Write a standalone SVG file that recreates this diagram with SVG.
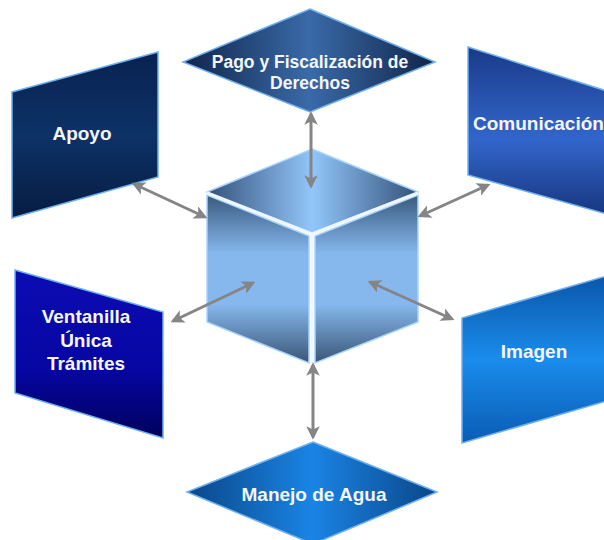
<svg xmlns="http://www.w3.org/2000/svg" width="604" height="540" viewBox="0 0 604 540">
  <style>
    .lbl { font-family: "Liberation Sans", Arial, sans-serif; font-weight: bold; fill: #f4f6fa; }
    .edge { stroke: #6fb0f0; stroke-width: 1.5; stroke-linejoin: miter; }
    .face { stroke: #a8d4ff; stroke-width: 1.5; }
    .conn { stroke: #858585; stroke-width: 3; fill: none; marker-start: url(#head); marker-end: url(#head); }
  </style>
  <defs>
    <marker id="head" viewBox="0 0 10 10" refX="8" refY="5" markerWidth="4.5" markerHeight="4.5" orient="auto-start-reverse" markerUnits="strokeWidth">
      <path d="M0,0 L10,5 L0,10 L2.5,5 Z" fill="#858585"/>
    </marker>
    <!-- node fills -->
    <linearGradient id="gPago" x1="0" y1="0" x2="1" y2="0">
      <stop offset="0" stop-color="#10254a"/>
      <stop offset="0.5" stop-color="#3a6aa8"/>
      <stop offset="1" stop-color="#10254a"/>
    </linearGradient>
    <linearGradient id="gApoyo" x1="0" y1="0" x2="0" y2="1">
      <stop offset="0" stop-color="#082250"/>
      <stop offset="0.5" stop-color="#0d3266"/>
      <stop offset="1" stop-color="#061c42"/>
    </linearGradient>
    <linearGradient id="gCom" x1="0" y1="0" x2="0" y2="1">
      <stop offset="0" stop-color="#1a3a88"/>
      <stop offset="0.55" stop-color="#3266cc"/>
      <stop offset="1" stop-color="#17367e"/>
    </linearGradient>
    <linearGradient id="gVent" x1="0" y1="0" x2="0" y2="1">
      <stop offset="0" stop-color="#0c0cb4"/>
      <stop offset="0.6" stop-color="#0606a2"/>
      <stop offset="1" stop-color="#00005c"/>
    </linearGradient>
    <linearGradient id="gImg" x1="0" y1="0" x2="0" y2="1">
      <stop offset="0" stop-color="#0a56a8"/>
      <stop offset="0.5" stop-color="#1a8cec"/>
      <stop offset="1" stop-color="#0a5cb4"/>
    </linearGradient>
    <linearGradient id="gAgua" x1="0" y1="0" x2="1" y2="0">
      <stop offset="0" stop-color="#0a4688"/>
      <stop offset="0.5" stop-color="#1a84e4"/>
      <stop offset="1" stop-color="#0a4688"/>
    </linearGradient>
    <!-- cube faces -->
    <linearGradient id="gSide" x1="0" y1="0" x2="0" y2="1">
      <stop offset="0" stop-color="#3a5a7e"/>
      <stop offset="0.35" stop-color="#86b8ee"/>
      <stop offset="0.65" stop-color="#86b8ee"/>
      <stop offset="1" stop-color="#3a5676"/>
    </linearGradient>
    <linearGradient id="gTop" x1="0" y1="0" x2="1" y2="0">
      <stop offset="0" stop-color="#34527a"/>
      <stop offset="0.5" stop-color="#92c6fa"/>
      <stop offset="1" stop-color="#34527a"/>
    </linearGradient>
  </defs>

  <!-- central cube -->
  <g id="cube">
    <polygon class="face" points="312,149 418,192 312,233 207,192" fill="url(#gTop)"/>
    <polygon class="face" points="207,195 309,236 309,363 207,322" fill="url(#gSide)"/>
    <polygon class="face" points="418,195 315,236 315,363 418,322" fill="url(#gSide)"/>
    <path d="M207,193 L312,234 L418,193 M312,234 L312,364" stroke="#eef6ff" stroke-width="3" fill="none"/>
  </g>

  <g id="pago">
    <polygon class="edge" points="310,9 435,62 310,112 183,62" fill="url(#gPago)"/>
    <text class="lbl" x="310" y="68" font-size="17.5" text-anchor="middle">Pago y Fiscalización de</text>
    <text class="lbl" x="310" y="89" font-size="17.5" text-anchor="middle">Derechos</text>
  </g>

  <g id="apoyo">
    <polygon class="edge" points="12,92 158,52 158,177 12,218" fill="url(#gApoyo)"/>
    <text class="lbl" x="82" y="140" font-size="19" text-anchor="middle">Apoyo</text>
  </g>

  <g id="comunicacion">
    <polygon class="edge" points="468,47 610,92 610,215 468,175" fill="url(#gCom)"/>
    <text class="lbl" x="473" y="130" font-size="19">Comunicación</text>
  </g>

  <g id="ventanilla">
    <polygon class="edge" points="15,270 163,312 163,438 15,393" fill="url(#gVent)"/>
    <text class="lbl" x="86" y="323" font-size="19" text-anchor="middle">Ventanilla</text>
    <text class="lbl" x="86" y="347" font-size="19" text-anchor="middle">Única</text>
    <text class="lbl" x="86" y="370" font-size="19" text-anchor="middle">Trámites</text>
  </g>

  <g id="imagen">
    <polygon class="edge" points="462,318 610,275 610,400 462,443" fill="url(#gImg)"/>
    <text class="lbl" x="534" y="358" font-size="19" text-anchor="middle">Imagen</text>
  </g>

  <g id="agua">
    <polygon class="edge" points="313,442 437,492 313,544 187,492" fill="url(#gAgua)"/>
    <text class="lbl" x="314" y="501" font-size="19" text-anchor="middle">Manejo de Agua</text>
  </g>

  <!-- double-headed connectors -->
  <g id="connectors">
    <line class="conn" x1="311" y1="114" x2="311" y2="186"/>
    <line class="conn" x1="134" y1="184" x2="205" y2="217"/>
    <line class="conn" x1="420" y1="216" x2="488" y2="185"/>
    <line class="conn" x1="253" y1="283" x2="173" y2="321"/>
    <line class="conn" x1="370" y1="282" x2="452" y2="319"/>
    <line class="conn" x1="313" y1="365" x2="313" y2="437"/>
  </g>
</svg>
